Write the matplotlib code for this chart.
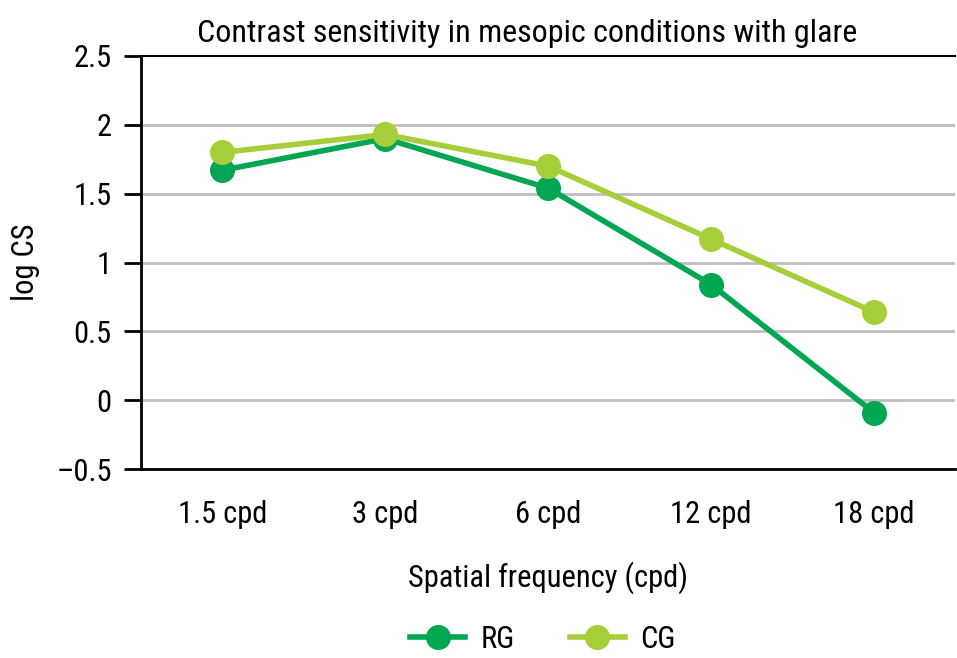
import matplotlib
matplotlib.use("Agg")
import matplotlib.pyplot as plt
from matplotlib import font_manager

# font: condensed look if available
names = {f.name for f in font_manager.fontManager.ttflist}
fam = "DejaVu Sans"
for cand in ["Liberation Sans Narrow", "Roboto Condensed", "Open Sans Condensed",
             "Noto Sans Condensed", "DejaVu Sans Condensed"]:
    if cand in names:
        fam = cand
        break
condensed = fam != "DejaVu Sans"
plt.rcParams['font.family'] = [fam, 'DejaVu Sans']
if fam == "DejaVu Sans":
    plt.rcParams['font.stretch'] = 'condensed'
fs = 22 if condensed else 18

# data
categories = ["1.5 cpd", "3 cpd", "6 cpd", "12 cpd", "18 cpd"]
rg_vals = [1.67, 1.90, 1.54, 0.84, -0.09]
cg_vals = [1.80, 1.93, 1.70, 1.17, 0.64]
yticks = [-0.5, 0, 0.5, 1, 1.5, 2, 2.5]
ytick_labels = ["\u20130.5", "0", "0.5", "1", "1.5", "2", "2.5"]

rg_color = "#00a651"
cg_color = "#a6ce39"

fig = plt.figure(figsize=(9.57, 6.58), dpi=100)
ax = fig.add_axes([0.1473, 0.2872, 0.851, 0.6277])

x = list(range(len(categories)))
ax.plot(x, rg_vals, '-o', color=rg_color, lw=4, ms=17, label="RG", zorder=3)
ax.plot(x, cg_vals, '-o', color=cg_color, lw=4, ms=17, label="CG", zorder=4)

ax.set_xlim(-0.5, 4.5)
ax.set_ylim(-0.5, 2.5)
ax.set_yticks(yticks)
ax.set_yticklabels(ytick_labels)
ax.set_xticks(x)
ax.set_xticklabels(categories)

for y in yticks[1:-1]:
    ax.axhline(y, color="#bdbdbd", lw=2, zorder=1)

for s in ["left", "bottom", "top"]:
    ax.spines[s].set_linewidth(2)
    ax.spines[s].set_color("black")
ax.spines["top"].set_linewidth(1.5)
ax.spines["right"].set_visible(False)

ax.tick_params(axis='y', length=12, width=2, pad=9, labelsize=fs)
ax.tick_params(axis='x', length=0, pad=22, labelsize=fs)

ax.set_title("Contrast sensitivity in mesopic conditions with glare",
             fontsize=fs + 1, pad=10, x=0.474)
ax.set_ylabel("log CS", fontsize=fs, labelpad=12)
ax.set_xlabel("Spatial frequency (cpd)", fontsize=fs, labelpad=24)

fig.legend(*ax.get_legend_handles_labels(), loc="center", bbox_to_anchor=(0.567, 0.028),
           ncol=2, frameon=False, fontsize=fs, handlelength=1.8, columnspacing=1.8,
           handletextpad=0.5)

fig.savefig("out.png", dpi=100)
